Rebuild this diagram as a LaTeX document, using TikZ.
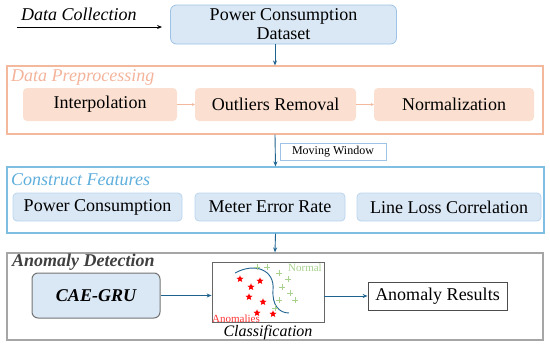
\documentclass[tikz,border=0pt]{standalone}
\usepackage{fontspec}
\setmainfont{Liberation Serif}
\usepackage{xcolor}
\usetikzlibrary{arrows.meta,shapes.geometric}
\definecolor{bluefill}{HTML}{DAE8F5}
\definecolor{blueline}{HTML}{9DC3E6}
\definecolor{bluetitle}{HTML}{5EAEDC}
\definecolor{orgfill}{HTML}{FBE0D1}
\definecolor{orgline}{HTML}{F4B89C}
\definecolor{orgtitle}{HTML}{F4B39A}
\definecolor{grayline}{HTML}{A6A6A6}
\definecolor{arrblue}{HTML}{1F6391}
\definecolor{normgreen}{HTML}{A9D18E}
\tikzset{
  frame/.style={draw,line width=1.2pt,minimum width=#1,inner sep=0pt},
  title/.style={anchor=west,inner sep=0pt,font=\fontsize{18}{20}\selectfont\itshape},
  stepbox/.style={rounded corners=4pt,minimum width=#1,minimum height=33pt,inner sep=0pt},
  featbox/.style={rounded corners=4pt,fill=bluefill,draw=blueline!70,line width=0.8pt,minimum width=#1,minimum height=28pt,inner sep=0pt},
  arr/.style={-{Stealth[length=5pt,width=4pt]},draw=arrblue,line width=0.9pt},
  smallarr/.style={-{Stealth[length=3pt,width=3pt]},draw=orgline,line width=0.6pt}
}
\begin{document}
\begin{tikzpicture}[x=1pt,y=-1pt,font=\fontsize{18}{19}\selectfont]
\useasboundingbox (0,0) rectangle (550,346);
\node[title](coll)at(21,14){Data Collection};
\coordinate(src)at(17,27);
\node[rounded corners=6pt,fill=bluefill,draw=blueline,line width=0.8pt,minimum width=226pt,minimum height=39pt,inner sep=0pt,align=center](dataset)at(283.5,24.5){Power Consumption\\Dataset};
\draw[arr,draw=black,shorten >=8pt](src)--(dataset.west|-src);
% preprocessing
\node[frame=536pt,draw=orgline,minimum height=68pt](prep)at(275,100){};
\node[title,text=orgtitle](preptitle)at(11,77){Data Preprocessing};
\node[stepbox=154pt,fill=orgfill](interp)at(100,104.5){Interpolation};
\node[stepbox=161pt,fill=orgfill](outl)at(275.5,104.5){Outliers Removal};
\node[stepbox=160pt,fill=orgfill](norm)at(454,104.5){Normalization};
\draw[smallarr](interp)--(outl);\draw[smallarr](outl)--(norm);
\draw[arr](prep.north|-dataset.south)--(prep.north);
% features
\node[frame=537pt,draw=bluetitle!80,minimum height=66pt](feat)at(275.5,200){};
\node[title,text=bluetitle](feattitle)at(11,180){Construct Features};
\node[featbox=169pt](pc)at(97.5,207){Power Consumption};
\node[featbox=150pt](mer)at(270,207){Meter Error Rate};
\node[featbox=184pt](llc)at(449,207){Line Loss Correlation};
\draw[arr](prep.south)--(feat.north);
\node[draw=blueline,line width=0.8pt,minimum width=106pt,minimum height=17pt,inner sep=0pt,font=\fontsize{12}{12}\selectfont](mw)at(333,151.5){Moving Window};
% detection
\node[frame=536pt,draw=grayline,minimum height=87pt](det)at(275,296.5){};
\node[title,font=\fontsize{18}{20}\selectfont\bfseries\itshape,text=black!75](dettitle)at(12,262){Anomaly Detection};
\draw[arr](feat.south)--(det.north);
\node[rounded corners=6pt,fill=bluefill,draw=black!55,line width=1pt,minimum width=128pt,minimum height=45pt,inner sep=0pt,font=\fontsize{18}{20}\selectfont\bfseries\itshape](cae)at(96,295.5){CAE-GRU};
\node[draw=black!60,line width=0.8pt,minimum width=112pt,minimum height=60pt,inner sep=0pt](cls)at(268,292){};
\node[font=\fontsize{16}{16}\selectfont\itshape](clstext)at(268,333){Classification};
\node[draw=black!70,line width=0.8pt,minimum width=139pt,minimum height=28pt,inner sep=0pt](res)at(437.5,296){Anomaly Results};
\draw[arr](cae.east)--(cls.west|-cae.east);
\draw[arr](cls.east|-res.west)--(res.west);
\draw[arrblue,line width=0.9pt](235,273)..controls(255,262)and(275,270)..(273,290)..controls(272,305)and(279,313)..(289,313);
\foreach \x/\y [count=\i] in {240/279,251/287,260/281,249/297,263/302,257/313,273/314}
  \node[star,star points=5,star point ratio=2.3,fill=red,minimum size=7.5pt,inner sep=0pt](s\i)at(\x,\y){};
\foreach \x/\y in {257/267,267/267,279/273,288/279,282/287,290/293,295/300,279/300,275/308}
  \draw[normgreen,line width=0.7pt](\x-2.8,\y)--(\x+2.8,\y)(\x,\y-2.8)--(\x,\y+2.8);
\node[text=normgreen,font=\fontsize{11}{11}\selectfont](normal)at(305,268){Normal};
\node[text=red!80,font=\fontsize{11}{11}\selectfont](anom)at(236,318.5){Anomalies};
\end{tikzpicture}
\end{document}
